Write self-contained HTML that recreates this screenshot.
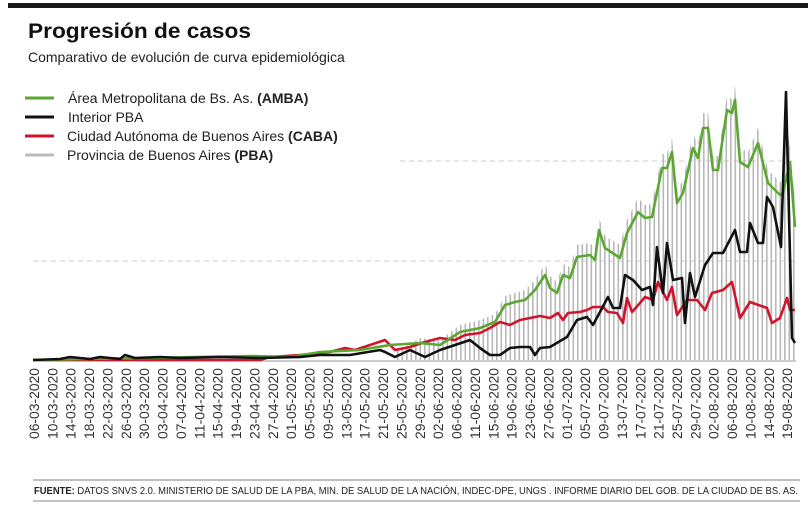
<!DOCTYPE html>
<html><head><meta charset="utf-8"><style>
html,body{margin:0;padding:0;background:#fff;}
svg{display:block;font-family:"Liberation Sans",sans-serif;}
</style></head><body>
<svg width="808" height="505" viewBox="0 0 808 505" xmlns="http://www.w3.org/2000/svg">
<defs>
<pattern id="vb" x="1" y="0" width="4.5" height="10" patternUnits="userSpaceOnUse">
<rect x="0" y="0" width="1.6" height="10" fill="#b8b8b8"/>
</pattern>
<clipPath id="cp">
<polygon points="395,360 395,352 420,338 440,340 460,325 480,320 495,314 505,296 515,293 525,290 535,280 545,264 550,276 557,282 563,264 570,267 577,245 590,243 595,248 599,218 605,236 620,245 627,220 638,198 645,205 652,204 662,154 667,154 672,138 677,190 683,180 693,134 698,145 703,113 708,113 713,156 718,156 727,96 732,99 735,86 740,148 748,152 758,128 768,170 780,182 783,180 786,118 790,148 795,200 795,360"/>
</clipPath>
</defs>
<rect x="8" y="3" width="800" height="5" fill="#1a1a1a"/>
<text x="28" y="38" font-size="21" font-weight="bold" fill="#111" textLength="223" lengthAdjust="spacingAndGlyphs">Progresión de casos</text>
<text x="28" y="62" font-size="14" fill="#222">Comparativo de evolución de curva epidemiológica</text>
<g stroke-width="3">
<line x1="25" y1="98" x2="54" y2="98" stroke="#5aa832"/>
<line x1="25" y1="117" x2="54" y2="117" stroke="#111"/>
<line x1="25" y1="136" x2="54" y2="136" stroke="#d0142c"/>
<line x1="25" y1="155" x2="54" y2="155" stroke="#bbb"/>
</g>
<g font-size="14" fill="#222">
<text x="68" y="103">Área Metropolitana de Bs. As. <tspan font-weight="bold">(AMBA)</tspan></text>
<text x="68" y="122">Interior PBA</text>
<text x="67" y="141">Ciudad Autónoma de Buenos Aires <tspan font-weight="bold">(CABA)</tspan></text>
<text x="67" y="160">Provincia de Buenos Aires <tspan font-weight="bold">(PBA)</tspan></text>
</g>
<line x1="400" y1="161" x2="796" y2="161" stroke="#ccc" stroke-dasharray="5,4"/>
<line x1="33" y1="261" x2="796" y2="261" stroke="#ccc" stroke-dasharray="5,4"/>
<rect x="390" y="80" width="410" height="281" fill="url(#vb)" clip-path="url(#cp)"/>
<line x1="33" y1="361" x2="796" y2="361" stroke="#999" stroke-width="1"/>
<polyline fill="none" stroke="#d0142c" stroke-width="2.6" stroke-linejoin="round" points="33,360 260,360 270,357 300,355 330,352 345,348 355,350 370,345 385,340 395,350 410,347 425,342 440,338 455,340 465,335 480,333 490,328 500,322 510,325 520,320 530,318 540,316 550,318 558,313 563,320 568,313 580,312 587,310 593,307 603,307 608,312 617,313 623,323 627,298 632,312 640,303 645,297 653,300 658,282 667,300 672,287 677,315 687,300 697,300 705,310 712,293 723,290 732,282 740,318 750,302 767,308 772,323 780,318 787,298 790,310 795,310"/>
<polyline fill="none" stroke="#5aa832" stroke-width="2.6" stroke-linejoin="round" points="33,360 250,356 290,357 320,352 360,350 390,345 420,343 440,345 460,332 480,328 495,322 505,305 515,302 525,300 535,290 545,275 550,288 557,293 563,275 570,278 577,257 590,255 595,260 599,230 605,248 620,258 627,233 638,212 645,218 652,217 662,168 667,168 672,152 677,203 683,193 693,148 698,158 703,128 708,128 713,170 718,170 727,110 732,113 735,100 740,162 748,167 758,143 768,183 780,195 783,193 790,162 795,227"/>
<polyline fill="none" stroke="#111" stroke-width="2.6" stroke-linejoin="round" points="33,360 60,359 70,357 90,359 100,357 120,359 125,355 135,358 160,357 180,358 220,357 260,358 300,357 320,355 350,355 380,350 385,352 395,357 410,350 425,357 440,350 455,345 470,340 480,348 490,355 500,355 510,348 520,347 530,347 535,355 540,348 550,347 567,337 577,320 587,317 593,325 608,297 613,308 620,308 625,275 633,280 642,290 650,287 653,305 657,247 663,293 667,243 673,280 682,278 685,323 690,273 695,297 705,265 713,253 723,253 735,230 740,252 747,252 750,223 758,243 763,243 767,197 773,207 781,247 786,92 792,338 795,343"/>
<g font-size="14" fill="#333" text-anchor="end">
<text transform="translate(39,368) rotate(-90)" textLength="71" lengthAdjust="spacingAndGlyphs">06-03-2020</text>
<text transform="translate(57.4,368) rotate(-90)" textLength="71" lengthAdjust="spacingAndGlyphs">10-03-2020</text>
<text transform="translate(75.7,368) rotate(-90)" textLength="71" lengthAdjust="spacingAndGlyphs">14-03-2020</text>
<text transform="translate(94.1,368) rotate(-90)" textLength="71" lengthAdjust="spacingAndGlyphs">18-03-2020</text>
<text transform="translate(112.5,368) rotate(-90)" textLength="71" lengthAdjust="spacingAndGlyphs">22-03-2020</text>
<text transform="translate(130.9,368) rotate(-90)" textLength="71" lengthAdjust="spacingAndGlyphs">26-03-2020</text>
<text transform="translate(149.2,368) rotate(-90)" textLength="71" lengthAdjust="spacingAndGlyphs">30-03-2020</text>
<text transform="translate(167.6,368) rotate(-90)" textLength="71" lengthAdjust="spacingAndGlyphs">03-04-2020</text>
<text transform="translate(186,368) rotate(-90)" textLength="71" lengthAdjust="spacingAndGlyphs">07-04-2020</text>
<text transform="translate(204.3,368) rotate(-90)" textLength="71" lengthAdjust="spacingAndGlyphs">11-04-2020</text>
<text transform="translate(222.7,368) rotate(-90)" textLength="71" lengthAdjust="spacingAndGlyphs">15-04-2020</text>
<text transform="translate(241.1,368) rotate(-90)" textLength="71" lengthAdjust="spacingAndGlyphs">19-04-2020</text>
<text transform="translate(259.5,368) rotate(-90)" textLength="71" lengthAdjust="spacingAndGlyphs">23-04-2020</text>
<text transform="translate(277.8,368) rotate(-90)" textLength="71" lengthAdjust="spacingAndGlyphs">27-04-2020</text>
<text transform="translate(296.2,368) rotate(-90)" textLength="71" lengthAdjust="spacingAndGlyphs">01-05-2020</text>
<text transform="translate(314.6,368) rotate(-90)" textLength="71" lengthAdjust="spacingAndGlyphs">05-05-2020</text>
<text transform="translate(332.9,368) rotate(-90)" textLength="71" lengthAdjust="spacingAndGlyphs">09-05-2020</text>
<text transform="translate(351.3,368) rotate(-90)" textLength="71" lengthAdjust="spacingAndGlyphs">13-05-2020</text>
<text transform="translate(369.7,368) rotate(-90)" textLength="71" lengthAdjust="spacingAndGlyphs">17-05-2020</text>
<text transform="translate(388.1,368) rotate(-90)" textLength="71" lengthAdjust="spacingAndGlyphs">21-05-2020</text>
<text transform="translate(406.4,368) rotate(-90)" textLength="71" lengthAdjust="spacingAndGlyphs">25-05-2020</text>
<text transform="translate(424.8,368) rotate(-90)" textLength="71" lengthAdjust="spacingAndGlyphs">29-05-2020</text>
<text transform="translate(443.2,368) rotate(-90)" textLength="71" lengthAdjust="spacingAndGlyphs">02-06-2020</text>
<text transform="translate(461.5,368) rotate(-90)" textLength="71" lengthAdjust="spacingAndGlyphs">06-06-2020</text>
<text transform="translate(479.9,368) rotate(-90)" textLength="71" lengthAdjust="spacingAndGlyphs">11-06-2020</text>
<text transform="translate(498.3,368) rotate(-90)" textLength="71" lengthAdjust="spacingAndGlyphs">15-06-2020</text>
<text transform="translate(516.7,368) rotate(-90)" textLength="71" lengthAdjust="spacingAndGlyphs">19-06-2020</text>
<text transform="translate(535,368) rotate(-90)" textLength="71" lengthAdjust="spacingAndGlyphs">23-06-2020</text>
<text transform="translate(553.4,368) rotate(-90)" textLength="71" lengthAdjust="spacingAndGlyphs">27-06-2020</text>
<text transform="translate(571.8,368) rotate(-90)" textLength="71" lengthAdjust="spacingAndGlyphs">01-07-2020</text>
<text transform="translate(590.1,368) rotate(-90)" textLength="71" lengthAdjust="spacingAndGlyphs">05-07-2020</text>
<text transform="translate(608.5,368) rotate(-90)" textLength="71" lengthAdjust="spacingAndGlyphs">09-07-2020</text>
<text transform="translate(626.9,368) rotate(-90)" textLength="71" lengthAdjust="spacingAndGlyphs">13-07-2020</text>
<text transform="translate(645.3,368) rotate(-90)" textLength="71" lengthAdjust="spacingAndGlyphs">17-07-2020</text>
<text transform="translate(663.6,368) rotate(-90)" textLength="71" lengthAdjust="spacingAndGlyphs">21-07-2020</text>
<text transform="translate(682,368) rotate(-90)" textLength="71" lengthAdjust="spacingAndGlyphs">25-07-2020</text>
<text transform="translate(700.4,368) rotate(-90)" textLength="71" lengthAdjust="spacingAndGlyphs">29-07-2020</text>
<text transform="translate(718.7,368) rotate(-90)" textLength="71" lengthAdjust="spacingAndGlyphs">02-08-2020</text>
<text transform="translate(737.1,368) rotate(-90)" textLength="71" lengthAdjust="spacingAndGlyphs">06-08-2020</text>
<text transform="translate(755.5,368) rotate(-90)" textLength="71" lengthAdjust="spacingAndGlyphs">10-08-2020</text>
<text transform="translate(773.9,368) rotate(-90)" textLength="71" lengthAdjust="spacingAndGlyphs">14-08-2020</text>
<text transform="translate(792.2,368) rotate(-90)" textLength="71" lengthAdjust="spacingAndGlyphs">19-08-2020</text>
</g>
<line x1="33" y1="480" x2="800" y2="480" stroke="#aaa" stroke-width="1.5"/>
<text x="34" y="494" font-size="10" fill="#222" textLength="764" lengthAdjust="spacingAndGlyphs"><tspan font-weight="bold">FUENTE:</tspan>  DATOS SNVS 2.0. MINISTERIO DE SALUD DE LA PBA, MIN. DE SALUD DE LA NACIÓN, INDEC-DPE, UNGS . INFORME DIARIO DEL GOB. DE LA CIUDAD DE BS. AS.</text>
<line x1="33" y1="501" x2="800" y2="501" stroke="#888" stroke-width="1"/>
</svg>
</body></html>
